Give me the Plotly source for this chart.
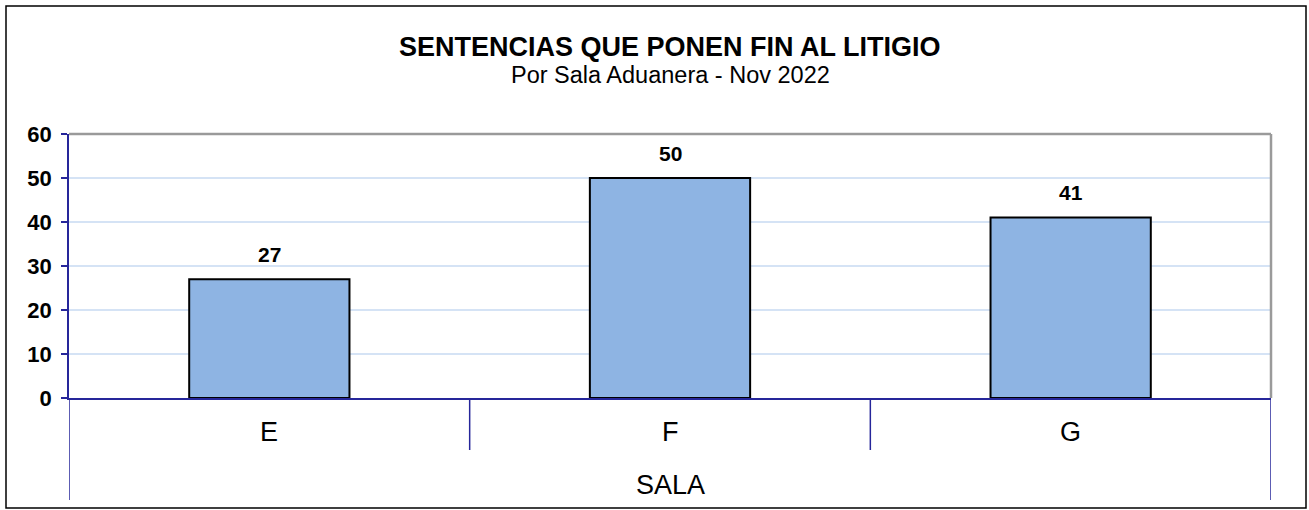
import plotly.graph_objects as go

categories = ["E", "F", "G"]
values = [27, 50, 41]
y_ticks = [0, 10, 20, 30, 40, 50, 60]

title_text = "SENTENCIAS QUE PONEN FIN AL LITIGIO"
subtitle_text = "Por Sala Aduanera - Nov 2022"
x_title = "SALA"

FONT = "Liberation Sans, Arial, sans-serif"
NAVY = "#26269A"

W, H = 1309, 510
L, R, T, B = 69, 1271, 134, 398
pw, ph = R - L, B - T

def px_x(x):
    return (x - L) / pw

def px_y(y):
    return (B - y) / ph

fig = go.Figure()
fig.add_trace(go.Bar(
    x=categories, y=values,
    marker=dict(color="#8EB4E3", line=dict(color="#000000", width=2)),
    width=0.4,
    hoverinfo="skip",
))

annotations = []
for c, v in zip(categories, values):
    annotations.append(dict(x=c, y=v, xref="x", yref="y", text=str(v), showarrow=False,
                            yshift=25, yanchor="middle",
                            font=dict(family=FONT, size=21, color="#000000", weight="bold")))
    annotations.append(dict(x=c, y=px_y(432), xref="x", yref="paper", text=c, showarrow=False,
                            yanchor="middle",
                            font=dict(family=FONT, size=27, color="#000000")))
annotations.append(dict(x=0.5, y=px_y(47), xref="paper", yref="paper", text=title_text,
                        showarrow=False, yanchor="middle",
                        font=dict(family=FONT, size=27, color="#000000", weight="bold")))
annotations.append(dict(x=0.5, y=px_y(75), xref="paper", yref="paper", text=subtitle_text,
                        showarrow=False, yanchor="middle",
                        font=dict(family=FONT, size=23.5, color="#000000")))
annotations.append(dict(x=0.5, y=px_y(485), xref="paper", yref="paper", text=x_title,
                        showarrow=False, yanchor="middle",
                        font=dict(family=FONT, size=27, color="#000000")))

shapes = []
# outer border
shapes.append(dict(type="rect", xref="paper", yref="paper",
                   x0=px_x(6), x1=px_x(1306), y0=px_y(508), y1=px_y(6),
                   line=dict(color="#000000", width=1.5), layer="below"))
# plot area top/right border
shapes.append(dict(type="line", xref="paper", yref="paper", x0=0, x1=1, y0=1, y1=1,
                   line=dict(color="#9A9A9A", width=2.5)))
shapes.append(dict(type="line", xref="paper", yref="paper", x0=1, x1=1, y0=0, y1=1,
                   line=dict(color="#9A9A9A", width=2.5)))
# category dividers
for i in range(len(categories) + 1):
    xv = i - 0.5
    y0 = px_y(500) if i in (0, len(categories)) else px_y(450)
    shapes.append(dict(type="line", xref="x", yref="paper", x0=xv, x1=xv, y0=y0, y1=0,
                       line=dict(color=NAVY, width=1.5)))

fig.update_layout(
    width=W, height=H,
    margin=dict(l=L, r=W - R, t=T, b=H - B, pad=0),
    paper_bgcolor="white", plot_bgcolor="white",
    showlegend=False,
    bargap=0.6,
    annotations=annotations,
    shapes=shapes,
    xaxis=dict(
        type="category", range=[-0.5, 2.5],
        showline=True, linecolor=NAVY, linewidth=2,
        ticks="", showgrid=False, showticklabels=False,
    ),
    yaxis=dict(
        range=[0, 60], tickvals=y_ticks,
        showline=True, linecolor=NAVY, linewidth=1.5,
        ticks="outside", ticklen=6, tickcolor=NAVY, tickwidth=1.5,
        showgrid=True, gridcolor="#D5E3F5", gridwidth=1.5,
        zeroline=False,
        tickfont=dict(family=FONT, size=22, color="#000000", weight="bold"),
        ticklabelstandoff=5,
    ),
)

fig.write_html("out.html", config={"displayModeBar": False},
               post_script="document.body.style.margin='0';document.body.style.overflow='hidden';")
